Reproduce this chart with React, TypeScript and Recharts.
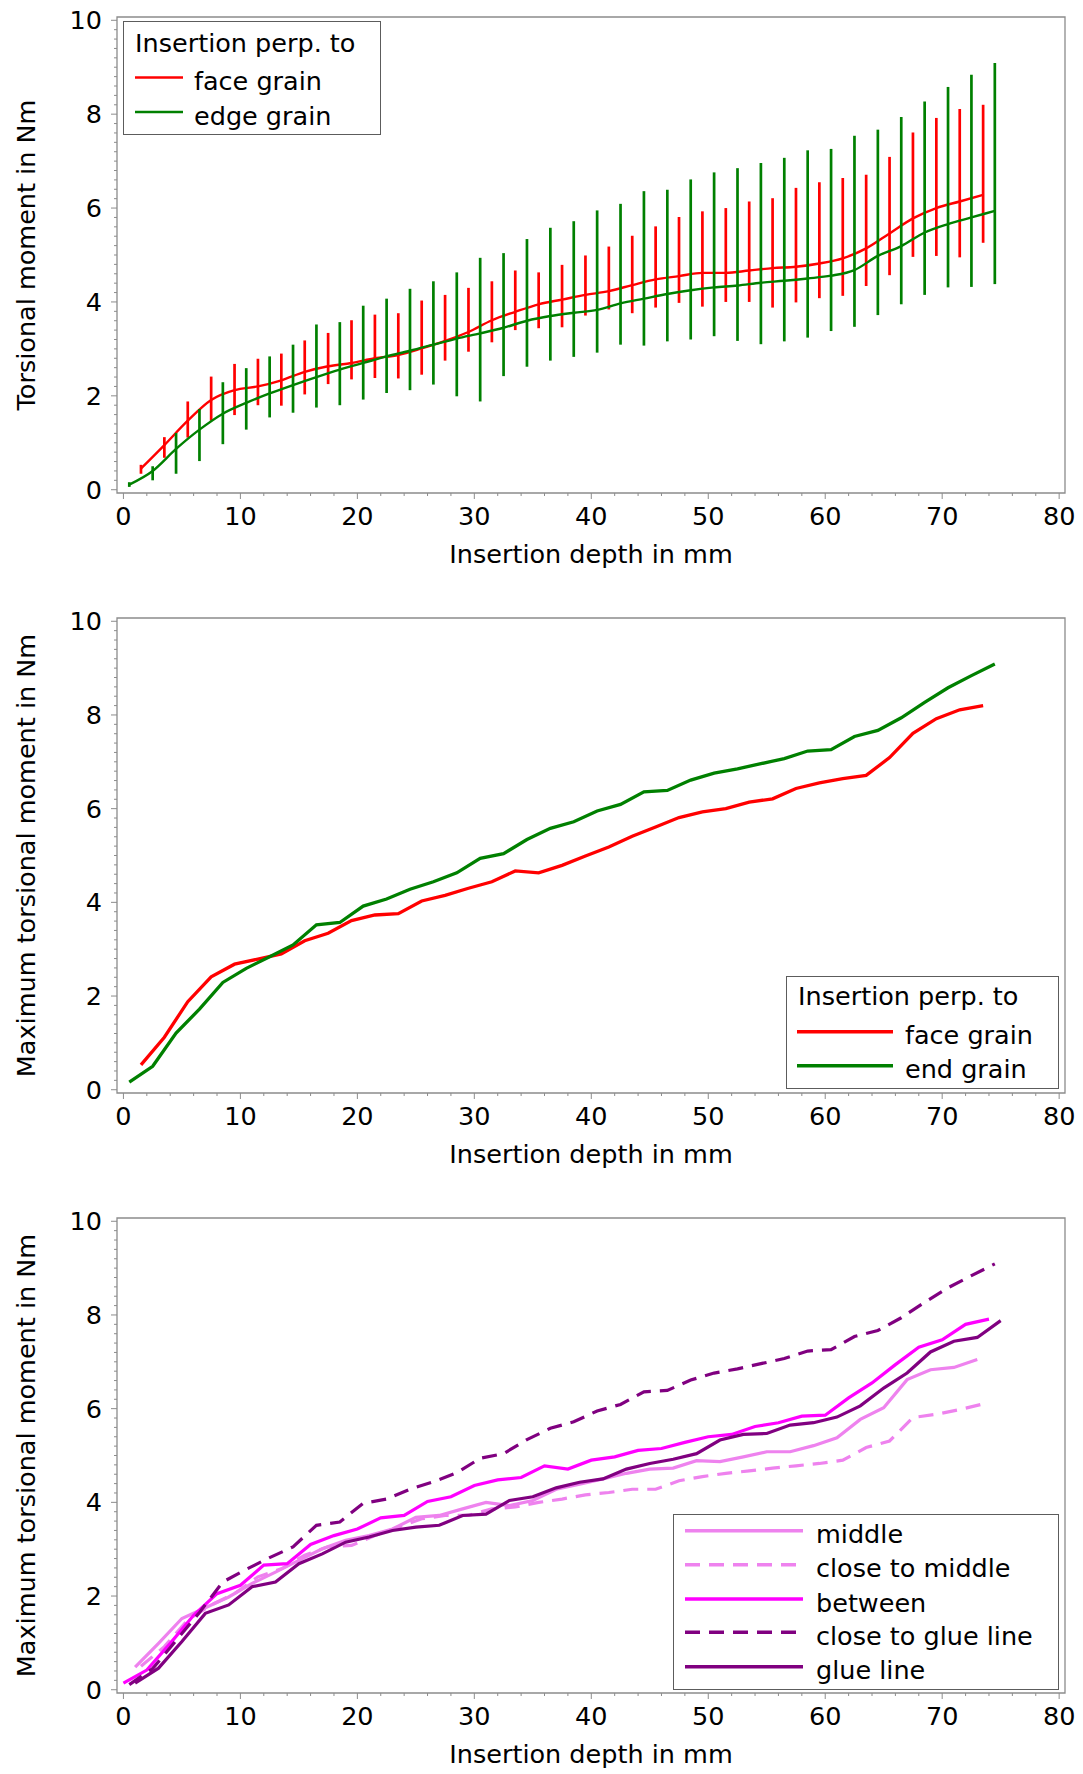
import {
  LineChart,
  Line,
  XAxis,
  YAxis,
  ErrorBar,
  ReferenceArea,
  Legend,
} from "recharts";

// ---- data: insertion depth positions (mm) ----
const faceDepth = [
  1.5, 3.5, 5.5, 7.5, 9.5, 11.5, 13.5, 15.5, 17.5, 19.5, 21.5, 23.5, 25.5,
  27.5, 29.5, 31.5, 33.5, 35.5, 37.5, 39.5, 41.5, 43.5, 45.5, 47.5, 49.5, 51.5,
  53.5, 55.5, 57.5, 59.5, 61.5, 63.5, 65.5, 67.5, 69.5, 71.5, 73.5,
];
const edgeDepth = [
  0.5, 2.5, 4.5, 6.5, 8.5, 10.5, 12.5, 14.5, 16.5, 18.5, 20.5, 22.5, 24.5,
  26.5, 28.5, 30.5, 32.5, 34.5, 36.5, 38.5, 40.5, 42.5, 44.5, 46.5, 48.5, 50.5,
  52.5, 54.5, 56.5, 58.5, 60.5, 62.5, 64.5, 66.5, 68.5, 70.5, 72.5, 74.5,
];
const evenDepth = [
  0, 2, 4, 6, 8, 10, 12, 14, 16, 18, 20, 22, 24, 26, 28, 30, 32, 34, 36, 38,
  40, 42, 44, 46, 48, 50, 52, 54, 56, 58, 60, 62, 64, 66, 68, 70, 72, 74,
];
const oddDepth = [
  1, 3, 5, 7, 9, 11, 13, 15, 17, 19, 21, 23, 25, 27, 29, 31, 33, 35, 37, 39,
  41, 43, 45, 47, 49, 51, 53, 55, 57, 59, 61, 63, 65, 67, 69, 71, 73, 75,
];

// ---- torsional moment (Nm), insertion perp. to face grain ----
const faceMean = [
  0.45, 0.95, 1.47, 1.91, 2.12, 2.2, 2.33, 2.51, 2.63, 2.7, 2.8, 2.87, 3.01,
  3.17, 3.36, 3.61, 3.79, 3.95, 4.05, 4.15, 4.23, 4.36, 4.48, 4.55, 4.62, 4.62,
  4.67, 4.72, 4.75, 4.82, 4.93, 5.14, 5.46, 5.78, 6.0, 6.14, 6.28,
];
const faceMin = [
  0.34, 0.68, 1.11, 1.47, 1.59, 1.8, 1.79, 2.03, 2.25, 2.35, 2.38, 2.37, 2.45,
  2.75, 2.94, 3.14, 3.4, 3.44, 3.46, 3.71, 3.84, 3.76, 3.88, 3.98, 3.9, 4.0,
  4.0, 3.88, 3.99, 4.08, 4.13, 4.34, 4.57, 4.96, 4.98, 4.95, 5.26,
];
const faceMax = [
  0.53, 1.12, 1.88, 2.41, 2.68, 2.79, 2.9, 3.18, 3.34, 3.61, 3.73, 3.76, 4.03,
  4.15, 4.3, 4.44, 4.67, 4.63, 4.79, 4.99, 5.18, 5.41, 5.61, 5.81, 5.93, 6.0,
  6.14, 6.21, 6.43, 6.55, 6.64, 6.71, 7.09, 7.61, 7.92, 8.11, 8.2,
];

// ---- insertion perp. to edge / end grain ----
const edgeMean = [
  0.11, 0.4, 0.87, 1.28, 1.62, 1.85, 2.05, 2.23, 2.4, 2.56, 2.7, 2.84, 2.96,
  3.09, 3.22, 3.33, 3.45, 3.6, 3.7, 3.77, 3.83, 3.97, 4.07, 4.17, 4.25, 4.31,
  4.35, 4.41, 4.45, 4.5, 4.56, 4.68, 4.98, 5.19, 5.48, 5.66, 5.8, 5.94,
];
const edgeMin = [
  0.06, 0.2, 0.34, 0.61, 0.97, 1.28, 1.54, 1.64, 1.75, 1.8, 1.92, 2.06, 2.12,
  2.24, 1.99, 1.88, 2.42, 2.62, 2.75, 2.83, 2.92, 3.09, 3.07, 3.16, 3.2, 3.27,
  3.17, 3.1, 3.16, 3.24, 3.38, 3.47, 3.72, 3.95, 4.15, 4.31, 4.32, 4.38,
];
const edgeMax = [
  0.16, 0.5, 1.21, 1.72, 2.29, 2.59, 2.84, 3.09, 3.52, 3.57, 3.92, 4.07, 4.28,
  4.44, 4.63, 4.94, 5.04, 5.34, 5.58, 5.72, 5.95, 6.09, 6.36, 6.39, 6.61, 6.76,
  6.85, 6.96, 7.07, 7.23, 7.26, 7.54, 7.67, 7.94, 8.27, 8.58, 8.84, 9.09,
];

// ---- maximum torsional moment by position ----
const middleMax = [
  0.48, 0.99, 1.52, 1.75, 1.98, 2.27, 2.51, 2.76, 3.01, 3.19, 3.29, 3.43, 3.68,
  3.72, 3.86, 4.0, 3.93, 4.04, 4.28, 4.39, 4.5, 4.62, 4.71, 4.73, 4.89, 4.87,
  4.97, 5.08, 5.08, 5.21, 5.38, 5.77, 6.02, 6.62, 6.83, 6.88, 7.05,
];
const closeMiddleMax = [
  0.5, 0.92, 1.49, 1.81, 2.05, 2.41, 2.58, 2.87, 3.05, 3.08, 3.29, 3.47, 3.65,
  3.72, 3.72, 3.86, 3.9, 4.0, 4.07, 4.16, 4.21, 4.28, 4.28, 4.46, 4.55, 4.62,
  4.67, 4.73, 4.78, 4.83, 4.9, 5.17, 5.31, 5.81, 5.88, 5.98, 6.1,
];
const betweenMax = [
  0.14, 0.42, 0.99, 1.59, 2.05, 2.23, 2.66, 2.69, 3.1, 3.29, 3.43, 3.67, 3.72,
  4.02, 4.12, 4.36, 4.48, 4.53, 4.78, 4.71, 4.9, 4.97, 5.11, 5.15, 5.28, 5.4,
  5.45, 5.62, 5.7, 5.84, 5.86, 6.23, 6.55, 6.94, 7.31, 7.47, 7.8, 7.91,
];
const closeGlueMax = [
  0.11, 0.45, 1.05, 1.65, 2.3, 2.57, 2.82, 3.05, 3.51, 3.58, 3.98, 4.07, 4.28,
  4.44, 4.63, 4.94, 5.04, 5.34, 5.58, 5.72, 5.95, 6.09, 6.36, 6.39, 6.61, 6.76,
  6.85, 6.96, 7.07, 7.23, 7.26, 7.54, 7.67, 7.94, 8.27, 8.58, 8.84, 9.09,
];
const glueMax = [
  0.14, 0.46, 1.03, 1.63, 1.81, 2.2, 2.3, 2.69, 2.9, 3.15, 3.26, 3.4, 3.47,
  3.51, 3.72, 3.75, 4.04, 4.12, 4.31, 4.43, 4.5, 4.71, 4.83, 4.92, 5.04, 5.33,
  5.45, 5.47, 5.65, 5.7, 5.82, 6.06, 6.44, 6.76, 7.21, 7.44, 7.52, 7.88,
];

// ---- axis ticks ----
const X_LABELS = [0, 10, 20, 30, 40, 50, 60, 70, 80];
const Y_LABELS = [0, 2, 4, 6, 8, 10];
const X_TICKS = Array.from({ length: 41 }, (_, i) => i * 2);
const Y_TICKS = Array.from({ length: 51 }, (_, i) => Math.round(i * 20) / 100);

const X_DOMAIN: [number, number] = [-0.55, 80.5];
const Y_DOMAIN: [number, number] = [-0.07, 10.07];

const RED = "#ff0000";
const GREEN = "#008000";
const VIOLET = "#ee82ee";
const MAGENTA = "#ff00ff";
const PURPLE = "#800080";
const FRAME = "#8c8c8c";
const FONT = 25.5;

const W = 1083;
const H = 600;
const MARGIN = { top: 17, right: 18, bottom: 27, left: 17 };

const withErr = (xs: number[], mean: number[], lo: number[], hi: number[]) =>
  xs.map((x, i) => ({ x, mean: mean[i], err: [mean[i] - lo[i], hi[i] - mean[i]] }));
const pairs = (xs: number[], ys: number[]) => xs.map((x, i) => ({ x, y: ys[i] }));

function XTick(props: any) {
  const { x, y, payload } = props;
  const major = X_LABELS.includes(payload.value);
  return (
    <g>
      <line x1={x} x2={x} y1={y} y2={y + (major ? 6 : 3)} stroke={FRAME} />
      {major && (
        <text x={x} y={y + 32} textAnchor="middle" fontSize={FONT} fill="#000">
          {payload.value}
        </text>
      )}
    </g>
  );
}

function YTick(props: any) {
  const { x, y, payload } = props;
  const major = Y_LABELS.some((v) => Math.abs(v - payload.value) < 1e-6);
  return (
    <g>
      <line x1={x - (major ? 6 : 3)} x2={x} y1={y} y2={y} stroke={FRAME} />
      {major && (
        <text x={x - 15} y={y + 9} textAnchor="end" fontSize={FONT} fill="#000">
          {Math.round(payload.value)}
        </text>
      )}
    </g>
  );
}

function XTitle(props: any) {
  const vb = props.viewBox ?? { x: 117, y: 493, width: 948, height: 80 };
  return (
    <text x={vb.x + vb.width / 2} y={vb.y + 70} textAnchor="middle" fontSize={FONT} fill="#000">
      {props.text}
    </text>
  );
}

function YTitle(props: any) {
  const vb = props.viewBox ?? { x: 17, y: 17, width: 100, height: 476 };
  const cx = 26;
  const cy = vb.y + vb.height / 2;
  return (
    <text
      x={cx}
      y={cy}
      transform={`rotate(-90 ${cx} ${cy})`}
      textAnchor="middle"
      dominantBaseline="central"
      fontSize={FONT}
      fill="#000"
    >
      {props.text}
    </text>
  );
}

function axes(yTitle: string) {
  return [
    <XAxis
      key="x"
      type="number"
      dataKey="x"
      domain={X_DOMAIN}
      ticks={X_TICKS}
      interval={0}
      allowDataOverflow
      axisLine={false}
      tickLine={false}
      tickSize={0}
      tickMargin={0}
      height={80}
      tick={<XTick />}
      label={<XTitle text="Insertion depth in mm" />}
    />,
    <YAxis
      key="y"
      type="number"
      domain={Y_DOMAIN}
      ticks={Y_TICKS}
      interval={0}
      allowDataOverflow
      axisLine={false}
      tickLine={false}
      tickSize={0}
      tickMargin={0}
      width={100}
      tick={<YTick />}
      label={<YTitle text={yTitle} />}
    />,
    <ReferenceArea
      key="frame"
      x1={X_DOMAIN[0]}
      x2={X_DOMAIN[1]}
      y1={Y_DOMAIN[0]}
      y2={Y_DOMAIN[1]}
      fill="none"
      stroke={FRAME}
      strokeWidth={1.3}
      ifOverflow="visible"
    />,
  ];
}

type Item = { label: string; color: string; dash?: string };
type LegendCfg = {
  left: number;
  top: number;
  width: number;
  height: number;
  title?: string;
  titleY?: number;
  rows: number[];
  sample: [number, number];
  textX: number;
  strokeWidth: number;
  items: Item[];
};

function LegendBox({ cfg }: { cfg: LegendCfg }) {
  return (
    <svg width={cfg.width} height={cfg.height} style={{ display: "block" }}>
      <rect
        x={0.5}
        y={0.5}
        width={cfg.width - 1}
        height={cfg.height - 1}
        fill="#fff"
        stroke="#5c5c5c"
      />
      {cfg.title && (
        <text x={12} y={cfg.titleY} fontSize={FONT} fill="#000">
          {cfg.title}
        </text>
      )}
      {cfg.items.map((it, i) => (
        <g key={it.label}>
          <line
            x1={cfg.sample[0]}
            x2={cfg.sample[1]}
            y1={cfg.rows[i]}
            y2={cfg.rows[i]}
            stroke={it.color}
            strokeWidth={cfg.strokeWidth}
            strokeDasharray={it.dash}
          />
          <text x={cfg.textX} y={cfg.rows[i] + 12.5} fontSize={FONT} fill="#000">
            {it.label}
          </text>
        </g>
      ))}
    </svg>
  );
}

function legendOf(cfg: LegendCfg) {
  return (
    <Legend
      verticalAlign="middle"
      align="center"
      layout="horizontal"
      wrapperStyle={{ left: cfg.left, top: cfg.top, width: cfg.width, height: cfg.height }}
      content={() => <LegendBox cfg={cfg} />}
    />
  );
}

const legend1: LegendCfg = {
  left: 123, top: 21, width: 258, height: 114,
  title: "Insertion perp. to", titleY: 31,
  rows: [56.5, 91], sample: [12, 60], textX: 71, strokeWidth: 2.4,
  items: [
    { label: "face grain", color: RED },
    { label: "edge grain", color: GREEN },
  ],
};
const legend2: LegendCfg = {
  left: 786, top: 376, width: 273, height: 113,
  title: "Insertion perp. to", titleY: 29,
  rows: [55.7, 89.7], sample: [11, 107], textX: 119, strokeWidth: 3.5,
  items: [
    { label: "face grain", color: RED },
    { label: "end grain", color: GREEN },
  ],
};
const legend3: LegendCfg = {
  left: 673, top: 314, width: 386, height: 176,
  rows: [16.7, 50.7, 85, 118.3, 152.7], sample: [12, 130], textX: 143, strokeWidth: 3.5,
  items: [
    { label: "middle", color: VIOLET },
    { label: "close to middle", color: VIOLET, dash: "15 9" },
    { label: "between", color: MAGENTA },
    { label: "close to glue line", color: PURPLE, dash: "15 9" },
    { label: "glue line", color: PURPLE },
  ],
};

const lineProps = { dot: false, activeDot: false, isAnimationActive: false } as const;

function MeanChart() {
  return (
    <LineChart width={W} height={H} margin={MARGIN}>
      {axes("Torsional moment in Nm")}
      <Line
        data={withErr(faceDepth, faceMean, faceMin, faceMax)}
        dataKey="mean"
        type="monotone"
        stroke={RED}
        strokeWidth={2.4}
        {...lineProps}
      >
        <ErrorBar dataKey="err" width={0} stroke={RED} strokeWidth={2.7} direction="y" isAnimationActive={false} />
      </Line>
      <Line
        data={withErr(edgeDepth, edgeMean, edgeMin, edgeMax)}
        dataKey="mean"
        type="monotone"
        stroke={GREEN}
        strokeWidth={2.4}
        {...lineProps}
      >
        <ErrorBar dataKey="err" width={0} stroke={GREEN} strokeWidth={2.7} direction="y" isAnimationActive={false} />
      </Line>
      {legendOf(legend1)}
    </LineChart>
  );
}

function MaxChart() {
  return (
    <LineChart width={W} height={H} margin={{ ...MARGIN, top: 18 }}>
      {axes("Maximum torsional moment in Nm")}
      <Line data={pairs(faceDepth, faceMax)} dataKey="y" stroke={RED} strokeWidth={3.3} {...lineProps} />
      <Line data={pairs(edgeDepth, edgeMax)} dataKey="y" stroke={GREEN} strokeWidth={3.3} {...lineProps} />
      {legendOf(legend2)}
    </LineChart>
  );
}

function PositionChart() {
  return (
    <LineChart width={W} height={H} margin={{ ...MARGIN, top: 18 }}>
      {axes("Maximum torsional moment in Nm")}
      <Line data={pairs(oddDepth.slice(0, 37), middleMax)} dataKey="y" stroke={VIOLET} strokeWidth={3.2} {...lineProps} />
      <Line data={pairs(faceDepth, closeMiddleMax)} dataKey="y" stroke={VIOLET} strokeWidth={3.2} strokeDasharray="15 9" {...lineProps} />
      <Line data={pairs(evenDepth, betweenMax)} dataKey="y" stroke={MAGENTA} strokeWidth={3.2} {...lineProps} />
      <Line data={pairs(edgeDepth, closeGlueMax)} dataKey="y" stroke={PURPLE} strokeWidth={3.2} strokeDasharray="15 9" {...lineProps} />
      <Line data={pairs(oddDepth, glueMax)} dataKey="y" stroke={PURPLE} strokeWidth={3.2} {...lineProps} />
      {legendOf(legend3)}
    </LineChart>
  );
}

export default function App() {
  return (
    <div
      style={{
        position: "absolute",
        left: 0,
        top: 0,
        width: W,
        height: 1774,
        background: "#fff",
        fontFamily: "'DejaVu Sans', sans-serif",
      }}
    >
      <div style={{ position: "absolute", left: 0, top: 0 }}>
        <MeanChart />
      </div>
      <div style={{ position: "absolute", left: 0, top: 600 }}>
        <MaxChart />
      </div>
      <div style={{ position: "absolute", left: 0, top: 1200 }}>
        <PositionChart />
      </div>
    </div>
  );
}
